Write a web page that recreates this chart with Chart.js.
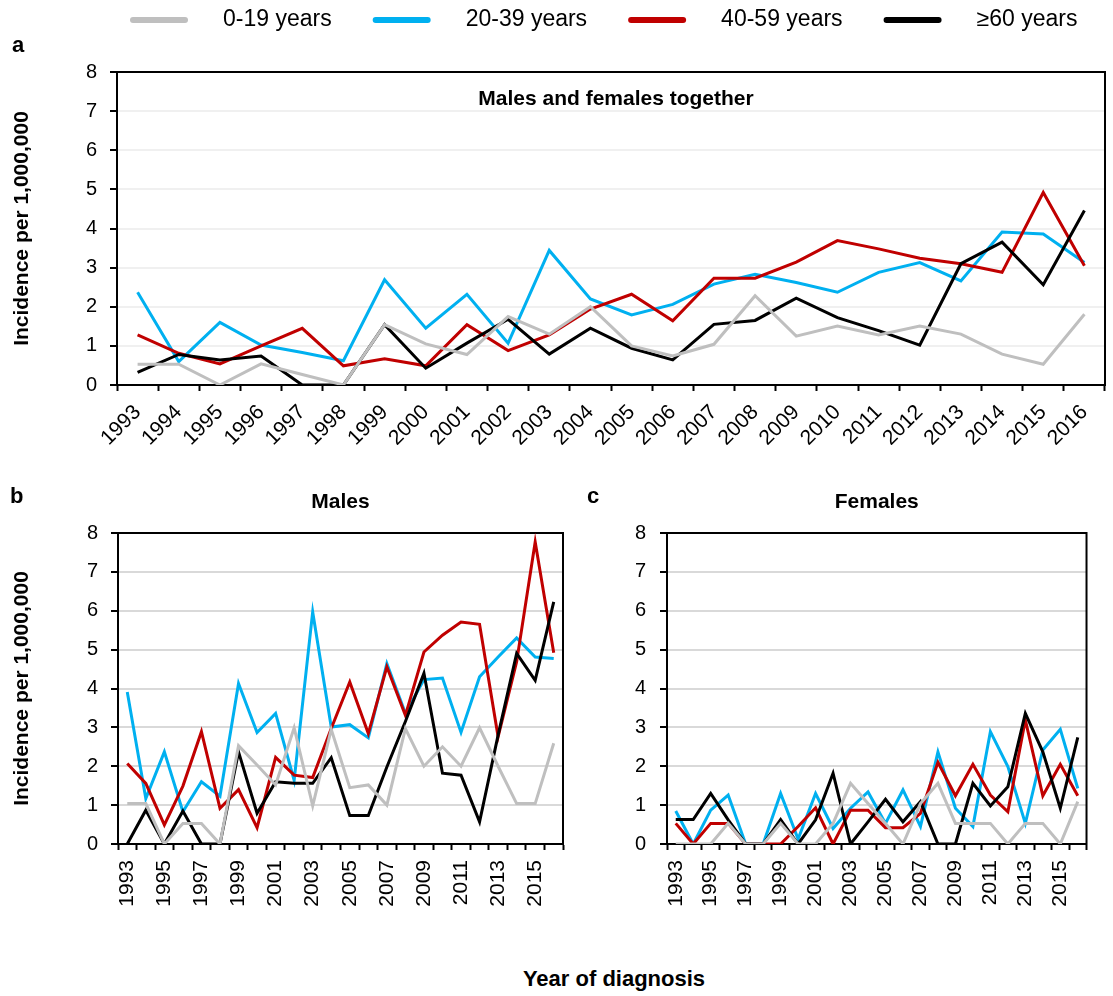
<!DOCTYPE html>
<html>
<head>
<meta charset="utf-8">
<script src="https://cdn.jsdelivr.net/npm/chart.js@4.4.1/dist/chart.umd.min.js"></script>
<style>
  body { margin: 0; background: #fff; width: 1113px; height: 996px; position: relative; overflow: hidden;
         font-family: "Liberation Sans", Arial, sans-serif; }
  canvas { position: absolute; }
  .lbl { position: absolute; font-weight: bold; font-size: 22px; line-height: 22px; color: #000; white-space: nowrap; }
</style>
</head>
<body>
<canvas id="chartA" width="1113" height="445" style="left:0;top:0"></canvas>
<canvas id="chartB" width="590" height="480" style="left:0;top:470px"></canvas>
<canvas id="chartC" width="523" height="480" style="left:590px;top:470px"></canvas>
<div class="lbl" style="left:12px;top:34px">a</div>
<div class="lbl" style="left:10px;top:485px">b</div>
<div class="lbl" style="left:587px;top:485px">c</div>
<div class="lbl" style="left:614px;top:968px;transform:translateX(-50%)">Year of diagnosis</div>

<script>
// --- data (incidence per 1,000,000) ---
const years = ['1993','1994','1995','1996','1997','1998','1999','2000','2001','2002','2003','2004',
               '2005','2006','2007','2008','2009','2010','2011','2012','2013','2014','2015','2016'];
const seriesNames = ['0-19 years', '20-39 years', '40-59 years', '\u226560 years'];
const seriesColors = ['#bfbfbf', '#00b0f0', '#c00000', '#000000'];

// a: males and females together
const all_0_19  = [0.53,0.53,0,0.54,0.27,0,1.54,1.05,0.78,1.75,1.30,2.0,1.0,0.74,1.04,2.28,1.25,1.51,1.28,1.51,1.30,0.79,0.53,1.81];
const all_20_39 = [2.37,0.60,1.60,1.02,0.83,0.62,2.69,1.45,2.32,1.07,3.44,2.2,1.79,2.06,2.58,2.83,2.62,2.37,2.88,3.13,2.66,3.91,3.86,3.13];
const all_40_59 = [1.28,0.81,0.54,1.0,1.45,0.49,0.67,0.49,1.54,0.88,1.28,1.94,2.32,1.64,2.73,2.73,3.14,3.69,3.48,3.24,3.10,2.88,4.92,3.05];
const all_60    = [0.32,0.78,0.64,0.74,0,0,1.54,0.43,1.07,1.68,0.79,1.45,0.94,0.64,1.55,1.65,2.22,1.72,1.39,1.02,3.10,3.65,2.56,4.46];

// b: males
const m_0_19  = [1.04,1.04,0,0.53,0.53,0,2.53,2.03,1.52,2.99,0.98,2.95,1.45,1.52,1.0,2.97,2.0,2.50,2.0,2.99,2.0,1.04,1.04,2.59];
const m_20_39 = [3.91,1.17,2.37,0.83,1.60,1.23,4.13,2.87,3.36,1.64,5.97,3.01,3.07,2.73,4.64,3.36,4.23,4.27,2.87,4.30,4.81,5.30,4.81,4.77];
const m_40_59 = [2.07,1.56,0.49,1.49,2.89,0.92,1.40,0.42,2.23,1.77,1.71,2.97,4.17,2.84,4.56,3.31,4.94,5.37,5.71,5.65,2.76,4.69,7.77,4.92];
const m_60    = [0,0.87,0,0.85,0,0,2.37,0.79,1.60,1.56,1.56,2.22,0.73,0.73,1.98,3.15,4.39,1.82,1.77,0.57,2.80,4.90,4.21,6.23];

// c: females
const f_0_19  = [0,0,0,0.53,0,0,0.53,0,0,0.53,1.56,1.04,0.53,0,1.04,1.56,0.53,0.53,0.53,0,0.53,0.53,0,1.09];
const f_20_39 = [0.85,0,0.87,1.26,0,0,1.30,0.13,1.30,0.40,0.92,1.34,0.53,1.39,0.45,2.37,0.92,0.45,2.89,1.99,0.53,2.42,2.95,1.43];
const f_40_59 = [0.53,0,0.53,0.53,0,0,0,0.45,0.93,0,0.87,0.87,0.42,0.42,0.79,2.10,1.24,2.05,1.26,0.83,3.19,1.24,2.05,1.24];
const f_60    = [0.63,0.63,1.30,0.62,0,0,0.63,0,0.62,1.82,0,0.57,1.15,0.57,1.09,0,0,1.56,0.98,1.47,3.36,2.37,0.92,2.74];

const yTickValues = [0, 1, 2, 3, 4, 5, 6, 7, 8];

const FONT = '"Liberation Sans", Arial, sans-serif';
Chart.defaults.font.family = FONT;
Chart.defaults.color = '#000';

// drawing order: gray on top, then black, red, blue
const drawOrder = [0, 3, 2, 1];

function makeDatasets(groups) {
  return groups.map((vals, i) => ({
    label: seriesNames[i],
    data: vals,
    borderColor: seriesColors[i],
    backgroundColor: seriesColors[i],
    borderWidth: 3,
    pointRadius: 0,
    tension: 0,
    fill: false,
    order: drawOrder[i]
  }));
}

// box round the plot + panel title text
const frame = {
  id: 'frame',
  beforeDatasetsDraw(chart) {
    const a = chart.chartArea, ctx = chart.ctx;
    ctx.save();
    ctx.strokeStyle = '#000';
    ctx.lineWidth = 2;
    ctx.strokeRect(a.left, a.top, a.right - a.left, a.bottom - a.top);
    ctx.restore();
  },
  afterDraw(chart) {
    const t = chart.$panelTitle;
    if (!t) return;
    const a = chart.chartArea, ctx = chart.ctx;
    ctx.save();
    ctx.font = 'bold 21px ' + FONT;
    ctx.fillStyle = '#000';
    ctx.textAlign = 'center';
    ctx.textBaseline = 'middle';
    ctx.fillText(t.text, (a.left + a.right) / 2 + (t.dx || 0), t.y);
    ctx.restore();
  }
};

// legend along the top of panel a
const topLegend = {
  id: 'topLegend',
  afterDraw(chart) {
    if (!chart.$showLegend) return;
    const ctx = chart.ctx;
    ctx.save();
    ctx.font = '23px ' + FONT;
    ctx.textBaseline = 'middle';
    let x = 133;
    const y = 20;
    chart.data.datasets.forEach(ds => {
      ctx.strokeStyle = ds.borderColor;
      ctx.lineWidth = 6;
      ctx.lineCap = 'round';
      ctx.beginPath();
      ctx.moveTo(x, y);
      ctx.lineTo(x + 52, y);
      ctx.stroke();
      ctx.fillStyle = '#000';
      ctx.fillText(ds.label, x + 90, y);
      x += 90 + ctx.measureText(ds.label).width + 44;
    });
    ctx.restore();
  }
};

function buildOptions(o) {
  return {
    responsive: false,
    animation: false,
    devicePixelRatio: 1,
    layout: { padding: o.padding },
    plugins: { legend: { display: false }, tooltip: { enabled: false } },
    scales: {
      x: {
        type: 'category',
        offset: true,
        grid: { offset: true, drawOnChartArea: false, tickColor: '#000', tickLength: 6, tickWidth: 2 },
        border: { color: '#000', width: 2 },
        ticks: {
          autoSkip: false,
          minRotation: o.rotation, maxRotation: o.rotation,
          padding: o.xPad,
          font: { size: o.xFont },
          color: '#000',
          callback: function(v, i) {
            const lab = this.getLabelForValue(v);
            return (o.everyOther && i % 2 === 1) ? '' : lab;
          }
        },
        afterFit: s => { s.height = o.xHeight; }
      },
      y: {
        min: 0, max: 8,
        afterBuildTicks: s => { s.ticks = yTickValues.map(v => ({ value: v })); },
        grid: { color: o.gridColor, lineWidth: 2, tickColor: '#000', tickLength: 7, tickWidth: 2 },
        border: { color: '#000', width: 2 },
        ticks: { font: { size: 20 }, color: '#000', padding: o.yPad },
        title: {
          display: !!o.yTitle,
          text: o.yTitle || '',
          font: { size: 21, weight: 'bold' },
          color: '#000',
          padding: { top: 10, bottom: 0 }
        },
        afterFit: s => { s.width = o.yWidth; }
      }
    }
  };
}

const chartA = new Chart(document.getElementById('chartA'), {
  type: 'line',
  data: { labels: years, datasets: makeDatasets([all_0_19, all_20_39, all_40_59, all_60]) },
  options: buildOptions({
    padding: { top: 72, right: 8, left: 0, bottom: 0 },
    rotation: 45, xPad: 9, xFont: 21, xHeight: 60, everyOther: false,
    gridColor: '#f0f0f0', yPad: 13, yWidth: 117, yTitle: 'Incidence per 1,000,000'
  }),
  plugins: [frame, topLegend]
});
chartA.$panelTitle = { text: 'Males and females together', y: 99, dx: 5 };
chartA.$showLegend = true;
chartA.draw();

const chartB = new Chart(document.getElementById('chartB'), {
  type: 'line',
  data: { labels: years, datasets: makeDatasets([m_0_19, m_20_39, m_40_59, m_60]) },
  options: buildOptions({
    padding: { top: 63, right: 27, left: 0, bottom: 0 },
    rotation: 90, xPad: 10, xFont: 21, xHeight: 106, everyOther: true,
    gridColor: '#d9d9d9', yPad: 13, yWidth: 118, yTitle: 'Incidence per 1,000,000'
  }),
  plugins: [frame]
});
chartB.$panelTitle = { text: 'Males', y: 32 };
chartB.draw();

const chartC = new Chart(document.getElementById('chartC'), {
  type: 'line',
  data: { labels: years, datasets: makeDatasets([f_0_19, f_20_39, f_40_59, f_60]) },
  options: buildOptions({
    padding: { top: 63, right: 1, left: 0, bottom: 0 },
    rotation: 90, xPad: 10, xFont: 21, xHeight: 106, everyOther: true,
    gridColor: '#d9d9d9', yPad: 14, yWidth: 77, yTitle: null
  }),
  plugins: [frame]
});
chartC.$panelTitle = { text: 'Females', y: 32 };
chartC.draw();
</script>
</body>
</html>
